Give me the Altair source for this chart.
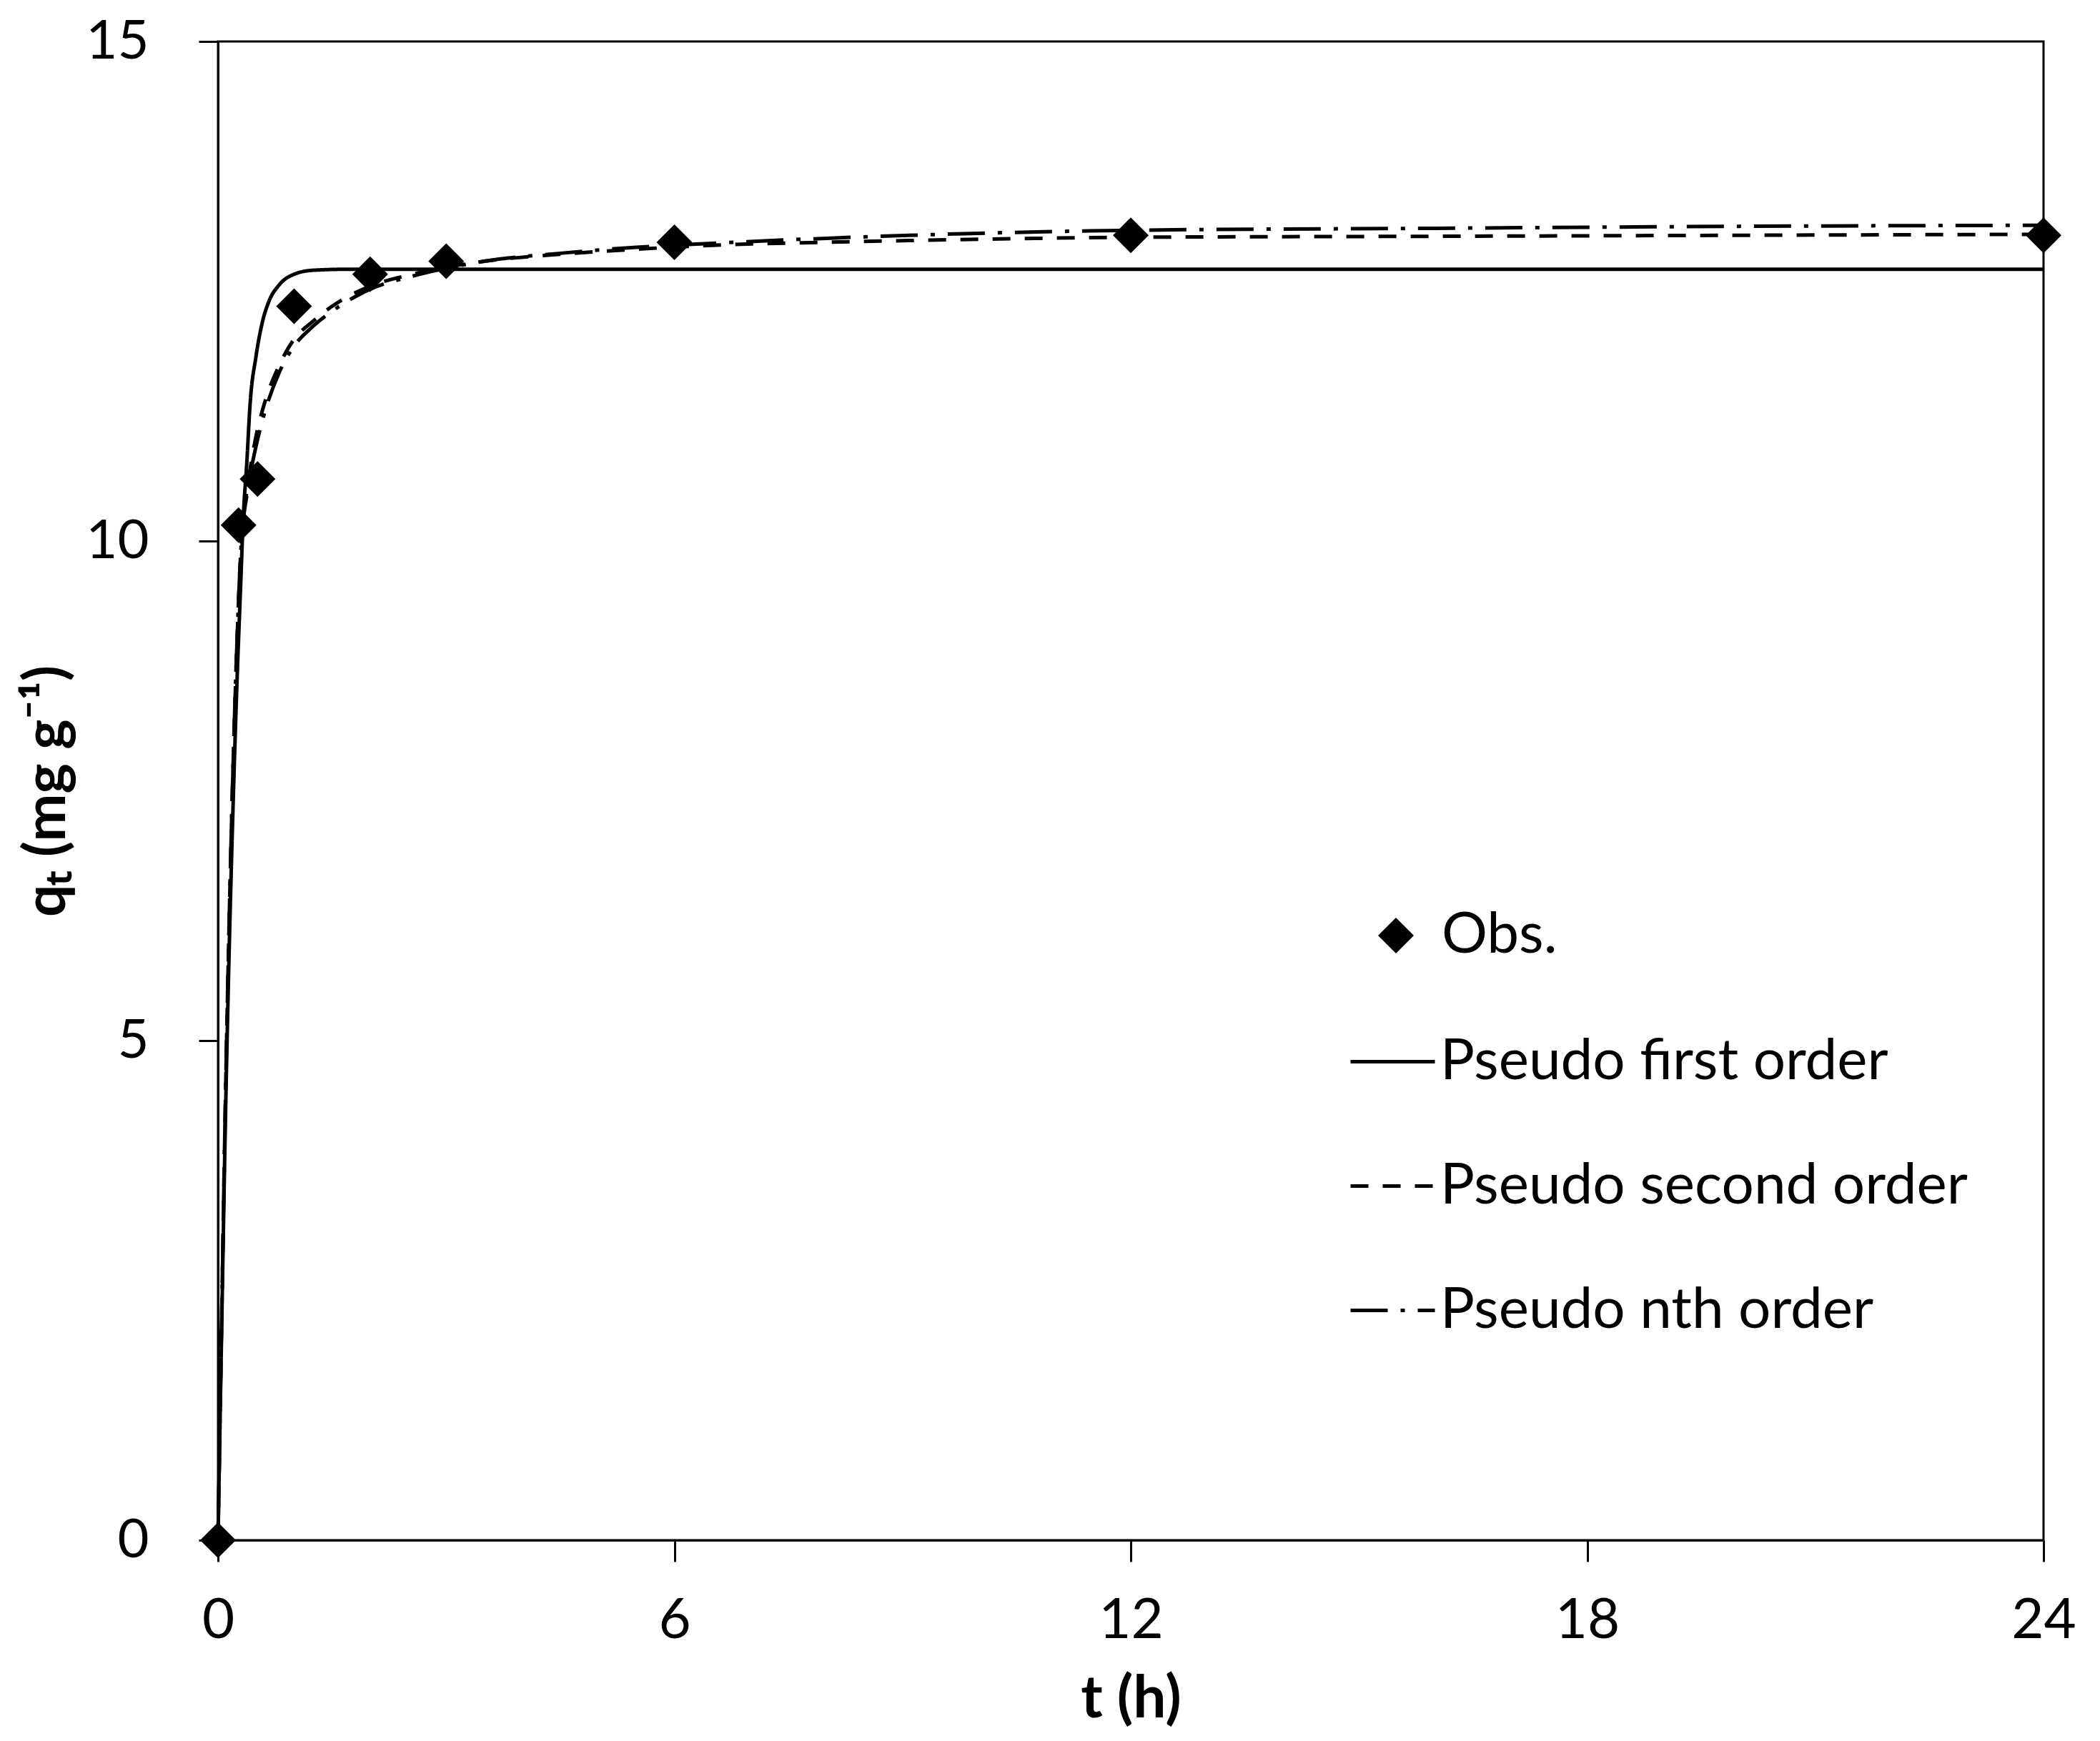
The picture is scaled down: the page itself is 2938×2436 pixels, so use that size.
import altair as alt
import pandas as pd

# Observed data (t in h, q_t in mg/g)
obs_t = [0, 0.27, 0.52, 1.0, 2.0, 3.0, 6.0, 12.0, 24.0]
obs_q = [0, 10.16, 10.62, 12.35, 12.67, 12.80, 12.99, 13.06, 13.06]

# Model curves
pfo_t = [0, 0.05, 0.1, 0.15, 0.2, 0.25, 0.3, 0.33, 0.38, 0.42, 0.5, 0.58, 0.67, 0.8, 1.0, 1.25, 1.7, 3, 6, 12, 24]
pfo_q = [0, 2.2, 4.3, 6.0, 7.4, 8.6, 9.6, 10.2, 10.8, 11.35, 11.85, 12.18, 12.4, 12.56, 12.67, 12.71, 12.72, 12.72, 12.72, 12.72, 12.72]

pso_t = [0, 0.05, 0.1, 0.15, 0.2, 0.25, 0.3, 0.4, 0.5, 0.6, 0.8, 1.0, 1.25, 1.5, 2, 2.5, 3, 3.5, 4.5, 5.5, 6.5, 8, 10, 12, 16, 20, 24]
pso_q = [0, 2.3, 4.5, 6.3, 7.8, 9.0, 9.9, 10.6, 11.05, 11.35, 11.75, 12.02, 12.2, 12.35, 12.55, 12.66, 12.74, 12.8, 12.87, 12.92, 12.96, 12.99, 13.02, 13.04, 13.05, 13.06, 13.07]

pno_t = [0, 0.05, 0.1, 0.15, 0.2, 0.25, 0.3, 0.4, 0.5, 0.6, 0.8, 1.0, 1.25, 1.5, 2, 2.5, 3, 3.5, 4.5, 5.5, 6.5, 8, 10, 12, 16, 20, 24]
pno_q = [0, 2.3, 4.5, 6.3, 7.8, 9.0, 9.9, 10.55, 10.95, 11.25, 11.68, 11.95, 12.15, 12.3, 12.52, 12.64, 12.73, 12.8, 12.88, 12.94, 12.98, 13.03, 13.08, 13.11, 13.13, 13.15, 13.16]

series_names = ["Pseudo first order", "Pseudo second order", "Pseudo nth order"]
dash_styles = [[1, 0], [25, 20], [52, 18, 6, 18]]

x_ticks = [0, 6, 12, 18, 24]
y_ticks = [0, 5, 10, 15]

FONT = "Lato"

obs_df = pd.DataFrame({"t": obs_t, "q": obs_q, "kind": "Obs."})
fit_df = pd.concat([
    pd.DataFrame({"t": pfo_t, "q": pfo_q, "model": series_names[0]}),
    pd.DataFrame({"t": pso_t, "q": pso_q, "model": series_names[1]}),
    pd.DataFrame({"t": pno_t, "q": pno_q, "model": series_names[2]}),
], ignore_index=True)

x_enc = alt.X("t:Q",
              scale=alt.Scale(domain=[0, 24], nice=False, zero=False),
              axis=alt.Axis(values=x_ticks, format="d", title="t (h)", grid=False,
                            tickSize=30, tickWidth=3, tickColor="black",
                            domainWidth=3, domainColor="black",
                            labelFont=FONT, labelFontSize=78, labelColor="black",
                            labelPadding=44, labelFlush=False,
                            titleFont=FONT, titleFontSize=82, titleFontWeight="bold",
                            titleColor="black", titlePadding=30))
y_enc = alt.Y("q:Q",
              scale=alt.Scale(domain=[0, 15], nice=False),
              axis=alt.Axis(values=y_ticks, format="d", title="qₜ (mg g⁻¹)", grid=False,
                            tickSize=27, tickWidth=3, tickColor="black",
                            domainWidth=3, domainColor="black",
                            labelFont=FONT, labelFontSize=76, labelColor="black",
                            labelPadding=70, labelFlush=False,
                            titleFont=FONT, titleFontSize=80, titleFontWeight="bold",
                            titleColor="black", titlePadding=12))

lines = alt.Chart(fit_df).mark_line(strokeWidth=5, color="black", interpolate="monotone").encode(
    x=x_enc,
    y=y_enc,
    detail="model:N",
    strokeDash=alt.StrokeDash(
        "model:N",
        scale=alt.Scale(domain=series_names, range=dash_styles),
        legend=alt.Legend(title=None, orient="none", legendX=1582, legendY=1366,
                          symbolType="stroke", symbolSize=13924, symbolStrokeWidth=5,
                          symbolStrokeColor="black", labelFont=FONT, labelFontSize=80,
                          labelColor="black", labelOffset=5, rowPadding=72, padding=0,
                          labelLimit=1000),
    ),
)

points = alt.Chart(obs_df).mark_point(shape="diamond", filled=True, color="black", size=2500, opacity=1).encode(
    x="t:Q",
    y="q:Q",
    shape=alt.Shape(
        "kind:N",
        scale=alt.Scale(domain=["Obs."], range=["diamond"]),
        legend=alt.Legend(title=None, orient="none", legendX=1608, legendY=1211,
                          symbolSize=2500, symbolFillColor="black", symbolStrokeColor="black",
                          symbolOpacity=1, labelFont=FONT, labelFontSize=80, labelColor="black",
                          labelOffset=24, padding=0, labelLimit=1000),
    ),
)

chart = alt.layer(lines, points).resolve_legend(
    shape="independent", strokeDash="independent"
).properties(
    width=2554, height=2097,
    autosize=alt.AutoSizeParams(type="none"),
    padding={"left": 297, "top": 50, "right": 60, "bottom": 270},
    background="white",
).configure_view(
    stroke="black", strokeWidth=3
)

chart.save("out.html", embed_options={"renderer": "svg", "actions": False})
